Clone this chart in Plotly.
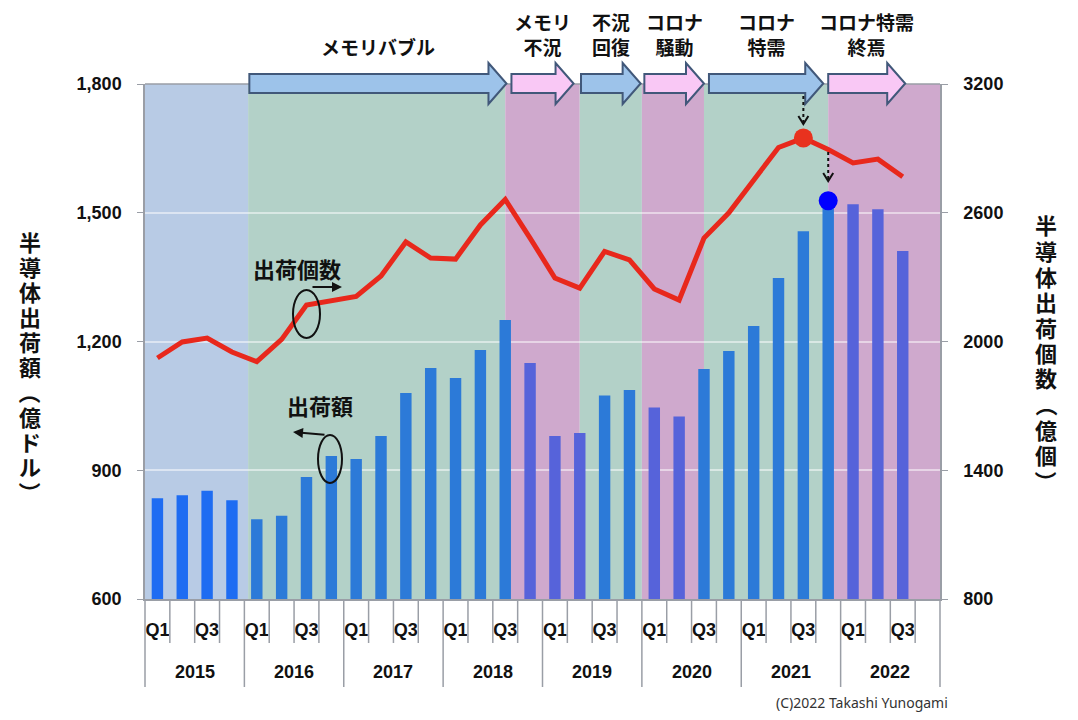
import plotly.graph_objects as go

# ---------------- data ----------------
years = ["2015", "2016", "2017", "2018", "2019", "2020", "2021", "2022"]
quarters = ["Q1", "Q2", "Q3", "Q4"]
quarter_tick_labels = ["Q1", "", "Q3", ""]
categories = [f"{y} {q}" for y in years for q in quarters]

# 半導体出荷額 (億ドル), quarterly, 2015Q1 .. 2022Q4 (2022Q4 not yet available)
shipment_value = [835, 842, 852, 830,
                  786, 794, 884, 933,
                  926, 980, 1080, 1138,
                  1115, 1180, 1250, 1150,
                  980, 987, 1074, 1087,
                  1046, 1025, 1136, 1178,
                  1236, 1348, 1457, 1528,
                  1520, 1508, 1411, None]

# 半導体出荷個数 (億個)
shipment_units = [1923, 1998, 2016, 1951,
                  1906, 2010, 2170, 2190,
                  2210, 2305, 2464, 2389,
                  2384, 2543, 2662, 2482,
                  2296, 2249, 2420, 2380,
                  2245, 2193, 2482, 2600,
                  2752, 2904, 2948, 2895,
                  2832, 2850, 2768, None]

phase_labels = ["メモリバブル", "メモリ<br>不況", "不況<br>回復", "コロナ<br>騒動", "コロナ<br>特需", "コロナ特需<br>終焉"]
phase_start = [3.7, 14.25, 17.05, 19.6, 22.2, 27.0]
phase_end = [14.05, 16.75, 19.45, 22.0, 26.8, 30.1]

region_bounds = [-0.5, 3.65, 14, 17, 19.5, 22, 27, 31.5]

left_title = "半導体出荷額（億ドル）"
right_title = "半導体出荷個数（億個）"

# ---------------- styles ----------------
C_BLUE_BG, C_GREEN_BG, C_PINK_BG = "#b8cbe5", "#b3d1c8", "#cfa9cd"
region_colors = [C_BLUE_BG, C_GREEN_BG, C_PINK_BG, C_GREEN_BG, C_PINK_BG, C_GREEN_BG, C_PINK_BG]
ARROW_BLUE, ARROW_PINK = "#9dc3ea", "#f9c8f5"
phase_fill = [ARROW_BLUE, ARROW_PINK, ARROW_BLUE, ARROW_PINK, ARROW_BLUE, ARROW_PINK]

BAR_BRIGHT, BAR_BLUE, BAR_VIOLET = "#1e6cf2", "#2c7ad8", "#5663da"
bar_colors = []
for i in range(32):
    if i < 4:
        bar_colors.append(BAR_BRIGHT)
    elif i <= 14 or 18 <= i <= 19 or 22 <= i <= 27:
        bar_colors.append(BAR_BLUE)
    else:
        bar_colors.append(BAR_VIOLET)

NUM_FONT = "Liberation Sans, Arial, sans-serif"
JP_FONT = "Noto Sans CJK JP, sans-serif"
TITLE_FONT = "Liberation Sans, Noto Sans CJK JP, sans-serif"
GRAY = "#9a9ea6"

# page-pixel -> paper helpers (plot area: x 145..940, y 84..599)
PL, PT, PW, PH = 145, 84, 795, 515
def pxx(x):
    return (x - PL) / PW
def pxy(y):
    return 1 - (y - PT) / PH
def ix(i):
    return (i + 0.5) / 32

fig = go.Figure()
fig.add_trace(go.Bar(
    x=categories, y=shipment_value, marker=dict(color=bar_colors, line=dict(width=0)),
    yaxis="y", showlegend=False, hoverinfo="x+y"))
fig.add_trace(go.Scatter(
    x=categories, y=shipment_units, mode="lines", yaxis="y2",
    line=dict(color="#e8281c", width=5), showlegend=False))
# highlight points: peak of units (2021 Q3) and peak of value (2021 Q4)
fig.add_trace(go.Scatter(
    x=[categories[26]], y=[shipment_units[26]], mode="markers", yaxis="y2",
    marker=dict(color="#e8321e", size=19), showlegend=False))
fig.add_trace(go.Scatter(
    x=[categories[27]], y=[shipment_value[27]], mode="markers", yaxis="y",
    marker=dict(color="#0000ff", size=19), showlegend=False))

shapes = []
# background regions
for k in range(len(region_colors)):
    shapes.append(dict(type="rect", xref="paper", yref="paper",
                       x0=ix(region_bounds[k]), x1=ix(region_bounds[k + 1]), y0=0, y1=1,
                       fillcolor=region_colors[k], line=dict(width=0), layer="below"))
# top border
shapes.append(dict(type="line", xref="paper", yref="paper", x0=0, x1=1, y0=1, y1=1,
                   line=dict(color=GRAY, width=1.5), layer="above"))
# quarter tick marks and year dividers below the axis
for b in range(33):
    pos = b - 0.5
    bottom = 687 if b % 4 == 0 else 643
    shapes.append(dict(type="line", xref="paper", yref="paper", x0=ix(pos), x1=ix(pos),
                       y0=0, y1=pxy(bottom), line=dict(color=GRAY, width=1.5)))
# phase arrows
hl = 18 / PW
yc = pxy(83.5)
bh = 9.5 / PH
hh = 20.5 / PH
for s, e, col in zip(phase_start, phase_end, phase_fill):
    x0, x1 = ix(s), ix(e)
    path = (f"M{x0},{yc + bh} L{x1 - hl},{yc + bh} L{x1 - hl},{yc + hh} L{x1},{yc} "
            f"L{x1 - hl},{yc - hh} L{x1 - hl},{yc - bh} L{x0},{yc - bh} Z")
    shapes.append(dict(type="path", xref="paper", yref="paper", path=path,
                       fillcolor=col, line=dict(color="#41587a", width=2), layer="above"))
# ellipses
shapes.append(dict(type="circle", xref="paper", yref="paper", x0=pxx(293), x1=pxx(320),
                   y0=pxy(338), y1=pxy(290), line=dict(color="#111", width=2)))
shapes.append(dict(type="circle", xref="paper", yref="paper", x0=pxx(318), x1=pxx(342),
                   y0=pxy(483), y1=pxy(435), line=dict(color="#111", width=2)))
# dotted pointer arrows
for i, ya, yb in [(26, 96, 122), (27, 152, 179)]:
    xc = ix(i)
    shapes.append(dict(type="line", xref="paper", yref="paper", x0=xc, x1=xc,
                       y0=pxy(ya), y1=pxy(yb), line=dict(color="#111", width=2, dash="dot")))
    shapes.append(dict(type="path", xref="paper", yref="paper",
                       path=f"M{xc - 5 / PW},{pxy(yb - 6)} L{xc},{pxy(yb + 2)} L{xc + 5 / PW},{pxy(yb - 6)}",
                       line=dict(color="#111", width=2)))

annotations = []
# year labels (second level of the category axis)
for k, y in enumerate(years):
    annotations.append(dict(xref="paper", yref="paper", x=ix(4 * k + 1.5), y=pxy(672),
                            xanchor="center", yanchor="middle", showarrow=False,
                            text=f"<b>{y}</b>",
                            font=dict(family=NUM_FONT, size=18, color="#111")))
# phase labels
for s, e, lab in zip(phase_start, phase_end, phase_labels):
    annotations.append(dict(xref="paper", yref="paper", x=(ix(s) + ix(e)) / 2, y=pxy(62),
                            xanchor="center", yanchor="bottom", showarrow=False,
                            text=f"<b>{lab}</b>", font=dict(family=JP_FONT, size=19, color="#111")))

# vertical axis titles: one character per row, brackets rotated
def vertical_title(text, xpix, ystart, pitch):
    for k, ch in enumerate(text):
        is_br = ch in "（）"
        annotations.append(dict(xref="paper", yref="paper", x=pxx(xpix), y=pxy(ystart + k * pitch),
                                xanchor="center", yanchor="middle", showarrow=False,
                                borderpad=0, textangle=90 if is_br else 0,
                                text=f"<b>{ch}</b>",
                                font=dict(family=TITLE_FONT, size=22, color="#111")))
vertical_title(left_title, 30, 243, 25.0)
vertical_title(right_title, 1046, 227, 25.5)

# series labels
annotations.append(dict(xref="paper", yref="paper", x=pxx(297), y=pxy(268), showarrow=False,
                        xanchor="center", yanchor="middle",
                        text="<b>出荷個数</b>", font=dict(family=JP_FONT, size=22, color="#111")))
annotations.append(dict(xref="paper", yref="paper", x=pxx(320), y=pxy(405), showarrow=False,
                        xanchor="center", yanchor="middle",
                        text="<b>出荷額</b>", font=dict(family=JP_FONT, size=22, color="#111")))
annotations.append(dict(xref="paper", yref="paper", x=pxx(342), y=pxy(287), ax=-31, ay=0,
                        text="", showarrow=True, arrowhead=2, arrowsize=1, arrowwidth=2,
                        arrowcolor="#111"))
annotations.append(dict(xref="paper", yref="paper", x=pxx(293), y=pxy(432), ax=33, ay=3,
                        text="", showarrow=True, arrowhead=2, arrowsize=1, arrowwidth=2,
                        arrowcolor="#111"))
# copyright
annotations.append(dict(xref="paper", yref="paper", x=pxx(862), y=pxy(702), showarrow=False,
                        xanchor="center", yanchor="middle",
                        text="(C)2022 Takashi Yunogami",
                        font=dict(family="Noto Sans, sans-serif", size=14, color="#333")))

fig.update_layout(
    width=1078, height=720,
    margin=dict(l=PL, r=1078 - (PL + PW), t=PT, b=720 - (PT + PH)),
    paper_bgcolor="white", plot_bgcolor="white",
    bargap=0.54,
    shapes=shapes, annotations=annotations,
    xaxis=dict(type="category", categoryorder="array", categoryarray=categories,
               range=[-0.5, 31.5], showgrid=False, tickangle=0,
               tickmode="array", tickvals=categories,
               ticktext=[quarter_tick_labels[i % 4] for i in range(len(categories))],
               ticks="outside", ticklen=14, tickcolor="rgba(0,0,0,0)",
               showline=True, linecolor=GRAY, linewidth=1.5,
               tickfont=dict(family=NUM_FONT, size=18, color="#111", weight="bold")),
    yaxis=dict(range=[600, 1800], dtick=300, tick0=600, tickformat=",",
               ticks="outside", ticklen=6, tickcolor=GRAY, ticklabelstandoff=12,
               showline=True, linecolor=GRAY, linewidth=1.5,
               showgrid=True, gridcolor="rgba(255,255,255,0.5)", gridwidth=1.5, zeroline=False,
               tickfont=dict(family=NUM_FONT, size=18, color="#111", weight="bold")),
    yaxis2=dict(range=[800, 3200], dtick=600, tick0=800, tickformat="d",
                overlaying="y", side="right",
                ticks="outside", ticklen=6, tickcolor=GRAY, ticklabelstandoff=12,
                showline=True, linecolor=GRAY, linewidth=1.5, showgrid=False, zeroline=False,
                tickfont=dict(family=NUM_FONT, size=18, color="#111", weight="bold")),
)

fig.write_html("out.html")
